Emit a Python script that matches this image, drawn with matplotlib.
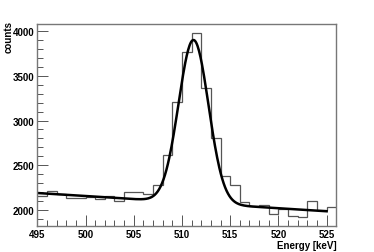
import numpy as np
import matplotlib.pyplot as plt
from matplotlib.ticker import MultipleLocator

plt.rcParams['font.family'] = ['Liberation Sans', 'DejaVu Sans']

# histogram: 1 keV bins from 495 to 526
binEdges = np.arange(495, 527, 1)
binCounts = [2153, 2209, 2179, 2131, 2131, 2142, 2123, 2160, 2097, 2198,
             2198, 2183, 2285, 2610, 3212, 3771, 3976, 3361, 2802, 2377,
             2283, 2086, 2041, 2056, 1955, 2008, 1933, 1918, 2104, 1997, 2030]

# fit: gaussian peak on a linear background
fitRange = [495, 525]
peakAmp = 1820
peakMean = 511.2
peakSigma = 1.55
bgOffset = 2190      # background at 495 keV
bgSlope = -6.8       # counts per keV

fig = plt.figure(figsize=(3.74, 2.53), dpi=100)
ax = fig.add_axes([37.3 / 374, 1 - 227.3 / 253, (336.3 - 37.3) / 374, (227.3 - 24.7) / 253])

ax.stairs(binCounts, binEdges, color='#555555', linewidth=0.9, baseline=None)

xFit = np.linspace(fitRange[0], fitRange[1], 400)
yFit = bgOffset + bgSlope * (xFit - 495) + peakAmp * np.exp(-0.5 * ((xFit - peakMean) / peakSigma) ** 2)
ax.plot(xFit, yFit, color='black', linewidth=1.8)

ax.set_xlim(495, 526)
ax.set_ylim(1818, 4082)

ax.xaxis.set_major_locator(MultipleLocator(5))
ax.xaxis.set_minor_locator(MultipleLocator(1))
ax.yaxis.set_major_locator(MultipleLocator(500))
ax.yaxis.set_minor_locator(MultipleLocator(100))
ax.tick_params(which='both', direction='in', top=False, right=False, labelsize=7, width=0.7, color='#555555', pad=2)
ax.tick_params(which='major', length=8)
ax.tick_params(which='minor', length=4)
for lbl in ax.get_xticklabels() + ax.get_yticklabels():
    lbl.set_fontweight('bold')

for sp in ax.spines.values():
    sp.set_color('#777777')
    sp.set_linewidth(1.0)

ax.set_xlabel('Energy [keV]', fontsize=7, fontweight='bold', loc='right', labelpad=1)
fig.text(8.5 / 374, 1 - 21 / 253, 'counts', rotation=90, fontsize=7, fontweight='bold',
         ha='center', va='top')

fig.savefig('out.png', dpi=100)
